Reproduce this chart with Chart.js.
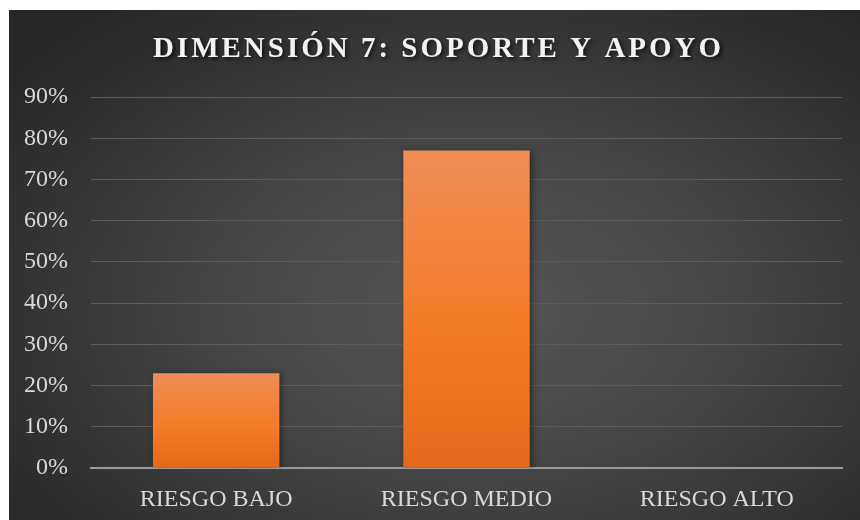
<!DOCTYPE html>
<html>
<head>
<meta charset="utf-8">
<script src="https://cdn.jsdelivr.net/npm/chart.js@4"></script>
<style>
    html, body { margin: 0; padding: 0; background: #fff; }
    .panel {
        position: absolute; left: 9px; top: 10px; width: 851px; height: 510px;
        background: radial-gradient(ellipse 70% 75% at 55% 58%, #575757 0%, #444 45%, #262626 100%);
    }
    canvas { display: block; }
</style>
</head>
<body>
<div class="panel"><canvas id="riskChart" width="851" height="510"></canvas></div>
<script>
const TITLE = 'DIMENSIÓN 7: SOPORTE Y APOYO';
const categories = ['RIESGO BAJO', 'RIESGO MEDIO', 'RIESGO ALTO'];
const riskShare = [0.23, 0.77, 0];
const yTicks = [0, 0.1, 0.2, 0.3, 0.4, 0.5, 0.6, 0.7, 0.8, 0.9];

const SERIF = '"Liberation Serif", "Times New Roman", serif';

// title drawn by hand so we get letter spacing + shadow
const titlePlugin = {
    id: 'spacedTitle',
    afterDraw(chart) {
        const ctx = chart.ctx;
        ctx.save();
        ctx.font = `bold 29px ${SERIF}`;
        ctx.letterSpacing = '3px';
        ctx.textAlign = 'center';
        ctx.textBaseline = 'middle';
        ctx.fillStyle = '#f2f2f2';
        ctx.shadowColor = 'rgba(0,0,0,0.75)';
        ctx.shadowBlur = 4;
        ctx.shadowOffsetX = 2;
        ctx.shadowOffsetY = 2;
        ctx.fillText(TITLE, chart.width / 2 + 4, 40);
        ctx.restore();
    }
};

const barShadow = {
    id: 'barShadow',
    beforeDatasetsDraw(chart) {
        const ctx = chart.ctx;
        ctx.save();
        ctx.shadowColor = 'rgba(0,0,0,0.45)';
        ctx.shadowBlur = 6;
        ctx.shadowOffsetX = 2;
        ctx.shadowOffsetY = 1;
    },
    afterDatasetsDraw(chart) {
        chart.ctx.restore();
    }
};

// each bar gets its own top-to-bottom gradient
function barFill(context) {
    const chart = context.chart;
    const area = chart.chartArea;
    if (!area || context.type !== 'data') return '#f47d2a';
    const y = chart.scales.y;
    const top = y.getPixelForValue(context.raw);
    const bottom = y.getPixelForValue(0);
    if (bottom - top < 1) return '#f47d2a';
    const g = chart.ctx.createLinearGradient(0, top, 0, bottom);
    g.addColorStop(0, '#f08d57');
    g.addColorStop(0.55, '#f47c28');
    g.addColorStop(1, '#e4681a');
    return g;
}

const ctx = document.getElementById('riskChart').getContext('2d');
new Chart(ctx, {
    type: 'bar',
    data: {
        labels: categories,
        datasets: [{
            data: riskShare,
            backgroundColor: barFill,
            borderWidth: 0,
            categoryPercentage: 1,
            barPercentage: 0.505
        }]
    },
    options: {
        responsive: false,
        animation: false,
        layout: { padding: { left: 15, right: 18, top: 87, bottom: 0 } },
        plugins: {
            legend: { display: false },
            tooltip: { enabled: false },
            title: { display: false }
        },
        scales: {
            x: {
                grid: { display: false, drawTicks: false },
                border: { display: true, color: '#9a9a9a', width: 2 },
                ticks: { color: '#d9d9d9', font: { family: SERIF, size: 24 }, padding: 17 },
                afterFit: s => { s.height = 52; }
            },
            y: {
                min: 0,
                max: 0.9,
                afterBuildTicks: s => { s.ticks = yTicks.map(v => ({ value: v })); },
                grid: { color: '#5c5c5c', lineWidth: 1, drawTicks: false },
                border: { display: false },
                ticks: {
                    color: '#d9d9d9',
                    font: { family: SERIF, size: 24 },
                    padding: 23,
                    callback: v => Math.round(v * 100) + '%'
                },
                afterFit: s => { s.width = 67; }
            }
        }
    },
    plugins: [barShadow, titlePlugin]
});
</script>
</body>
</html>
